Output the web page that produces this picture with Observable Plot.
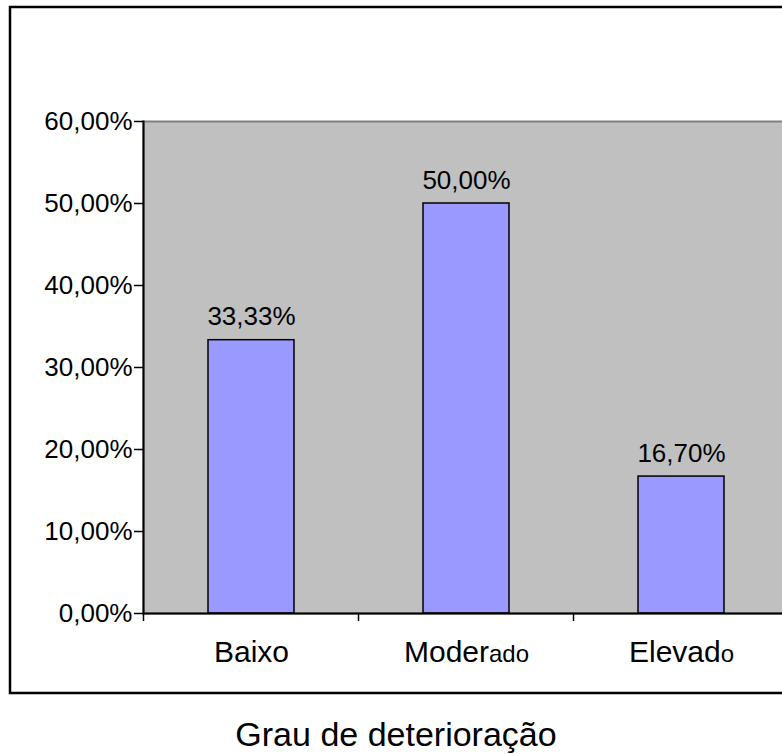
<!DOCTYPE html>
<html>
<head>
<meta charset="utf-8">
<script src="https://cdn.jsdelivr.net/npm/d3@7"></script>
<script src="https://cdn.jsdelivr.net/npm/@observablehq/plot@0.6"></script>
<style>
  html, body { margin: 0; padding: 0; background: white; }
  #chart svg { display: block; }
</style>
</head>
<body>
<div id="chart"></div>
<script>
const categories = ["Baixo", "Moderado", "Elevado"];
const values = [0.3333, 0.5, 0.167];
const valueLabels = ["33,33%", "50,00%", "16,70%"];
const yTicks = [0, 0.1, 0.2, 0.3, 0.4, 0.5, 0.6];
const title = "Grau de deterioração";

const data = categories.map((c, i) => ({cat: c, value: values[i], label: valueLabels[i]}));
const fmt = d => (d * 100).toFixed(2).replace(".", ",") + "%";
const FONT = "'Liberation Sans', Arial, sans-serif";

const chart = Plot.plot({
  width: 782,
  height: 754,
  marginLeft: 143,
  marginTop: 121,
  marginBottom: 141,
  marginRight: -6,
  style: {fontFamily: FONT, background: "white", color: "black", overflow: "hidden"},
  x: {domain: categories, paddingInner: 0.6, paddingOuter: 0.3, label: null},
  y: {domain: [0, 0.6], label: null},
  marks: [
    Plot.frame({fill: "#c0c0c0", stroke: "#808080", strokeWidth: 2}),
    Plot.barY(data, {x: "cat", y: "value", fill: "#9999ff", stroke: "black", strokeWidth: 1.5}),
    Plot.text(data, {x: "cat", y: "value", text: "label", dy: -15, lineAnchor: "bottom", fontSize: 26, fill: "black"}),
    Plot.ruleY([0], {stroke: "black", strokeWidth: 2}),
    Plot.frame({anchor: "left", stroke: "black", strokeWidth: 2}),
    Plot.axisY({ticks: yTicks, tickFormat: fmt, tickSize: 9, tickPadding: 2, fontSize: 26, stroke: "black", strokeWidth: 1.5}),
    Plot.axisX({tickSize: 0, tickPadding: 27, fontSize: 30})
  ]
});

document.getElementById("chart").appendChild(chart);

const svg = d3.select(chart);
const xs = chart.scale("x");
const ys = chart.scale("y");
const gap = (xs.step - xs.bandwidth) / 2;
const bounds = categories.map(c => xs.apply(c) - gap);
bounds.push(xs.apply(categories[categories.length - 1]) + xs.bandwidth + gap);
const y0 = ys.apply(0);
svg.append("g").selectAll("line").data(bounds).join("line")
  .attr("x1", d => d).attr("x2", d => d)
  .attr("y1", y0).attr("y2", y0 + 8)
  .attr("stroke", "black").attr("stroke-width", 1.5);

// Mixed font sizes in the category labels, as in the reference
svg.selectAll("text").each(function() {
  const t = d3.select(this);
  const s = t.text();
  if (s === "Moderado") {
    t.text("Moder");
    t.append("tspan").attr("font-size", 24).text("ado");
  } else if (s === "Elevado") {
    t.text("Elevad");
    t.append("tspan").attr("font-size", 24).text("o");
  }
});

// Outer chart border (cropped on the right)
svg.insert("rect", ":first-child")
  .attr("x", 10).attr("y", 7).attr("width", 1000).attr("height", 686)
  .attr("fill", "none").attr("stroke", "black").attr("stroke-width", 2.5);

// Axis title below the chart box
svg.append("text")
  .attr("x", 396).attr("y", 746)
  .attr("text-anchor", "middle")
  .attr("font-size", 34)
  .attr("font-family", FONT)
  .attr("fill", "black")
  .text(title);
</script>
</body>
</html>
